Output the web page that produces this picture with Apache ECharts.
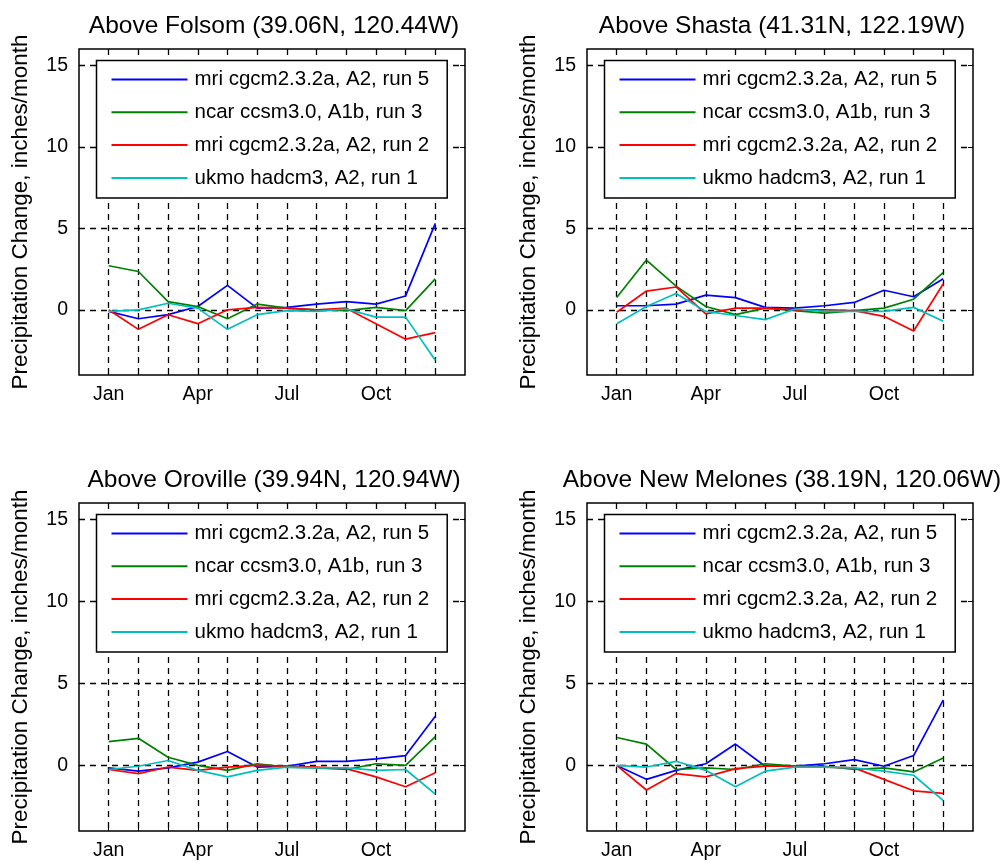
<!DOCTYPE html>
<html>
<head>
<meta charset="utf-8">
<title>Precipitation Change</title>
<script src="https://cdn.jsdelivr.net/npm/echarts@6/dist/echarts.min.js"></script>
<style>
  html, body { margin: 0; padding: 0; background: #fff; }
  #chart { width: 1001px; height: 863px; }
</style>
</head>
<body>
<div id="chart"></div>
<script>
// month positions on the x axis, only every 3rd gets a label
const months = [1, 2, 3, 4, 5, 6, 7, 8, 9, 10, 11, 12];
const labelMonths = [1, 4, 7, 10];
const monthNames = ['Jan', 'Feb', 'Mar', 'Apr', 'May', 'Jun', 'Jul', 'Aug', 'Sep', 'Oct', 'Nov', 'Dec'];
const yTicks = [0, 5, 10, 15];

const runNames = ['mri cgcm2.3.2a, A2, run 5', 'ncar ccsm3.0, A1b, run 3', 'mri cgcm2.3.2a, A2, run 2', 'ukmo hadcm3, A2, run 1'];
const runColors = ['#0000ff', '#008000', '#ff0000', '#00bfbf'];

const titles = [
  'Above Folsom (39.06N, 120.44W)',
  'Above Shasta (41.31N, 122.19W)',
  'Above Oroville (39.94N, 120.94W)',
  'Above New Melones (38.19N, 120.06W)'
];

// Above Folsom
const folsomRun5 = [-0.1, -0.55, -0.3, 0.2, 1.5, 0.1, 0.15, 0.35, 0.5, 0.35, 0.85, 5.3];
const folsomA1b3 = [2.7, 2.35, 0.5, 0.2, -0.55, 0.35, 0.1, 0, -0.05, 0.15, -0.05, 1.9];
const folsomRun2 = [0, -1.2, -0.3, -0.85, 0, 0.15, 0.1, 0, 0.1, -0.85, -1.8, -1.4];
const folsomUkmo1 = [-0.1, 0, 0.4, 0.1, -1.2, -0.3, -0.05, -0.1, 0.05, -0.45, -0.45, -3.1];

// Above Shasta
const shastaRun5 = [0.25, 0.25, 0.35, 0.9, 0.75, 0.15, 0.1, 0.25, 0.45, 1.2, 0.8, 1.9];
const shastaA1b3 = [0.75, 3.05, 1.45, 0.2, -0.3, 0.1, -0.05, -0.2, -0.05, 0.1, 0.65, 2.3];
const shastaRun2 = [-0.15, 1.15, 1.4, -0.25, 0.1, 0.1, 0, 0, -0.05, -0.4, -1.3, 1.6];
const shastaUkmo1 = [-0.85, 0.2, 1.0, -0.1, -0.35, -0.6, 0.05, -0.1, -0.1, -0.1, 0.15, -0.7];

// Above Oroville
const orovilleRun5 = [-0.15, -0.35, -0.15, 0.2, 0.85, -0.1, -0.05, 0.25, 0.25, 0.4, 0.6, 3.0];
const orovilleA1b3 = [1.45, 1.65, 0.5, 0, -0.3, 0.1, -0.1, -0.15, -0.25, 0.1, 0, 1.75];
const orovilleRun2 = [-0.25, -0.5, -0.1, -0.3, -0.1, 0, -0.05, -0.1, -0.2, -0.7, -1.3, -0.45];
const orovilleUkmo1 = [-0.25, -0.05, 0.3, -0.3, -0.7, -0.3, -0.1, -0.15, -0.15, -0.3, -0.25, -1.75];

// Above New Melones
const melonesRun5 = [0, -0.85, -0.3, 0.1, 1.3, -0.05, -0.05, 0.1, 0.35, -0.05, 0.6, 4.0];
const melonesA1b3 = [1.7, 1.3, -0.25, -0.15, -0.25, 0.1, -0.05, -0.05, -0.25, -0.15, -0.4, 0.45];
const melonesRun2 = [0, -1.5, -0.5, -0.7, -0.2, -0.05, -0.05, -0.1, -0.15, -0.85, -1.55, -1.7];
const melonesUkmo1 = [0, -0.1, 0.25, -0.3, -1.3, -0.35, -0.1, -0.1, -0.15, -0.35, -0.6, -2.15];

const panelRuns = [
  [folsomRun5, folsomA1b3, folsomRun2, folsomUkmo1],
  [shastaRun5, shastaA1b3, shastaRun2, shastaUkmo1],
  [orovilleRun5, orovilleA1b3, orovilleRun2, orovilleUkmo1],
  [melonesRun5, melonesA1b3, melonesRun2, melonesUkmo1]
];

const font = "'Liberation Sans', Arial, Helvetica, sans-serif";
const black = '#000';
const dash = { type: [6, 5], color: black, width: 1.3 };

// grid boxes (MATLAB style subplots)
const boxes = [
  { left: 79, top: 49, height: 326 },
  { left: 587, top: 49, height: 326 },
  { left: 79, top: 503, height: 328 },
  { left: 587, top: 503, height: 328 }
];
const boxWidth = 386;

const option = {
  animation: false,
  backgroundColor: '#fff',
  title: [],
  legend: [],
  grid: [],
  xAxis: [],
  yAxis: [],
  series: []
};

boxes.forEach((b, i) => {
  option.grid.push({
    left: b.left, top: b.top, width: boxWidth, height: b.height,
    show: true, borderColor: black, borderWidth: 1.5, backgroundColor: '#fff'
  });

  option.title.push({
    text: titles[i],
    left: b.left + boxWidth / 2 - 3,
    top: b.top - 40,
    textAlign: 'center',
    textStyle: { fontFamily: font, fontSize: 24.5, fontWeight: 'normal', color: black }
  });

  // bottom x axis with labels, top one only for the inner ticks
  option.xAxis.push({
    gridIndex: i, type: 'value', min: 0, max: 13,
    axisLine: { show: false, onZero: false },
    axisTick: { show: true, inside: true, length: 5, customValues: months, lineStyle: { color: black } },
    axisLabel: {
      customValues: labelMonths, formatter: v => monthNames[v - 1],
      color: black, fontFamily: font, fontSize: 19.5, margin: 10
    },
    splitLine: { show: true, lineStyle: dash }
  });
  option.xAxis.push({
    gridIndex: i, type: 'value', min: 0, max: 13, position: 'top',
    axisLine: { show: false, onZero: false },
    axisTick: { show: true, inside: true, length: 5, customValues: months, lineStyle: { color: black } },
    axisLabel: { show: false },
    splitLine: { show: false }
  });

  option.yAxis.push({
    gridIndex: i, type: 'value', min: -4, max: 16,
    name: 'Precipitation Change, inches/month',
    nameLocation: 'middle', nameGap: 47,
    nameTextStyle: { fontFamily: font, fontSize: 22.5, color: black },
    axisLine: { show: false, onZero: false },
    axisTick: { show: true, inside: true, length: 5, customValues: yTicks, lineStyle: { color: black } },
    axisLabel: { customValues: yTicks, color: black, fontFamily: font, fontSize: 19.5, margin: 11 },
    splitLine: { show: true, lineStyle: dash }
  });
  option.yAxis.push({
    gridIndex: i, type: 'value', min: -4, max: 16, position: 'right',
    axisLine: { show: false, onZero: false },
    axisTick: { show: true, inside: true, length: 5, customValues: yTicks, lineStyle: { color: black } },
    axisLabel: { show: false },
    splitLine: { show: false }
  });

  option.legend.push({
    left: b.left + 17.5, top: b.top + 11.5,
    orient: 'vertical',
    data: runNames,
    icon: 'rect', itemWidth: 76, itemHeight: 2, itemGap: 8.8,
    padding: [7, 18, 8, 15],
    backgroundColor: '#fff', borderColor: black, borderWidth: 1.5, borderRadius: 0,
    selectedMode: false,
    textStyle: { fontFamily: font, fontSize: 20.5, lineHeight: 24, color: black, padding: [0, 0, 0, 2] }
  });

  panelRuns[i].forEach((vals, k) => {
    option.series.push({
      name: runNames[k],
      type: 'line',
      xAxisIndex: 2 * i,
      yAxisIndex: 2 * i,
      symbol: 'none',
      color: runColors[k],
      lineStyle: { width: 1.7, color: runColors[k] },
      data: months.map((m, j) => [m, vals[j]])
    });
  });
});

const myChart = echarts.init(document.getElementById('chart'));
myChart.setOption(option);
</script>
</body>
</html>
